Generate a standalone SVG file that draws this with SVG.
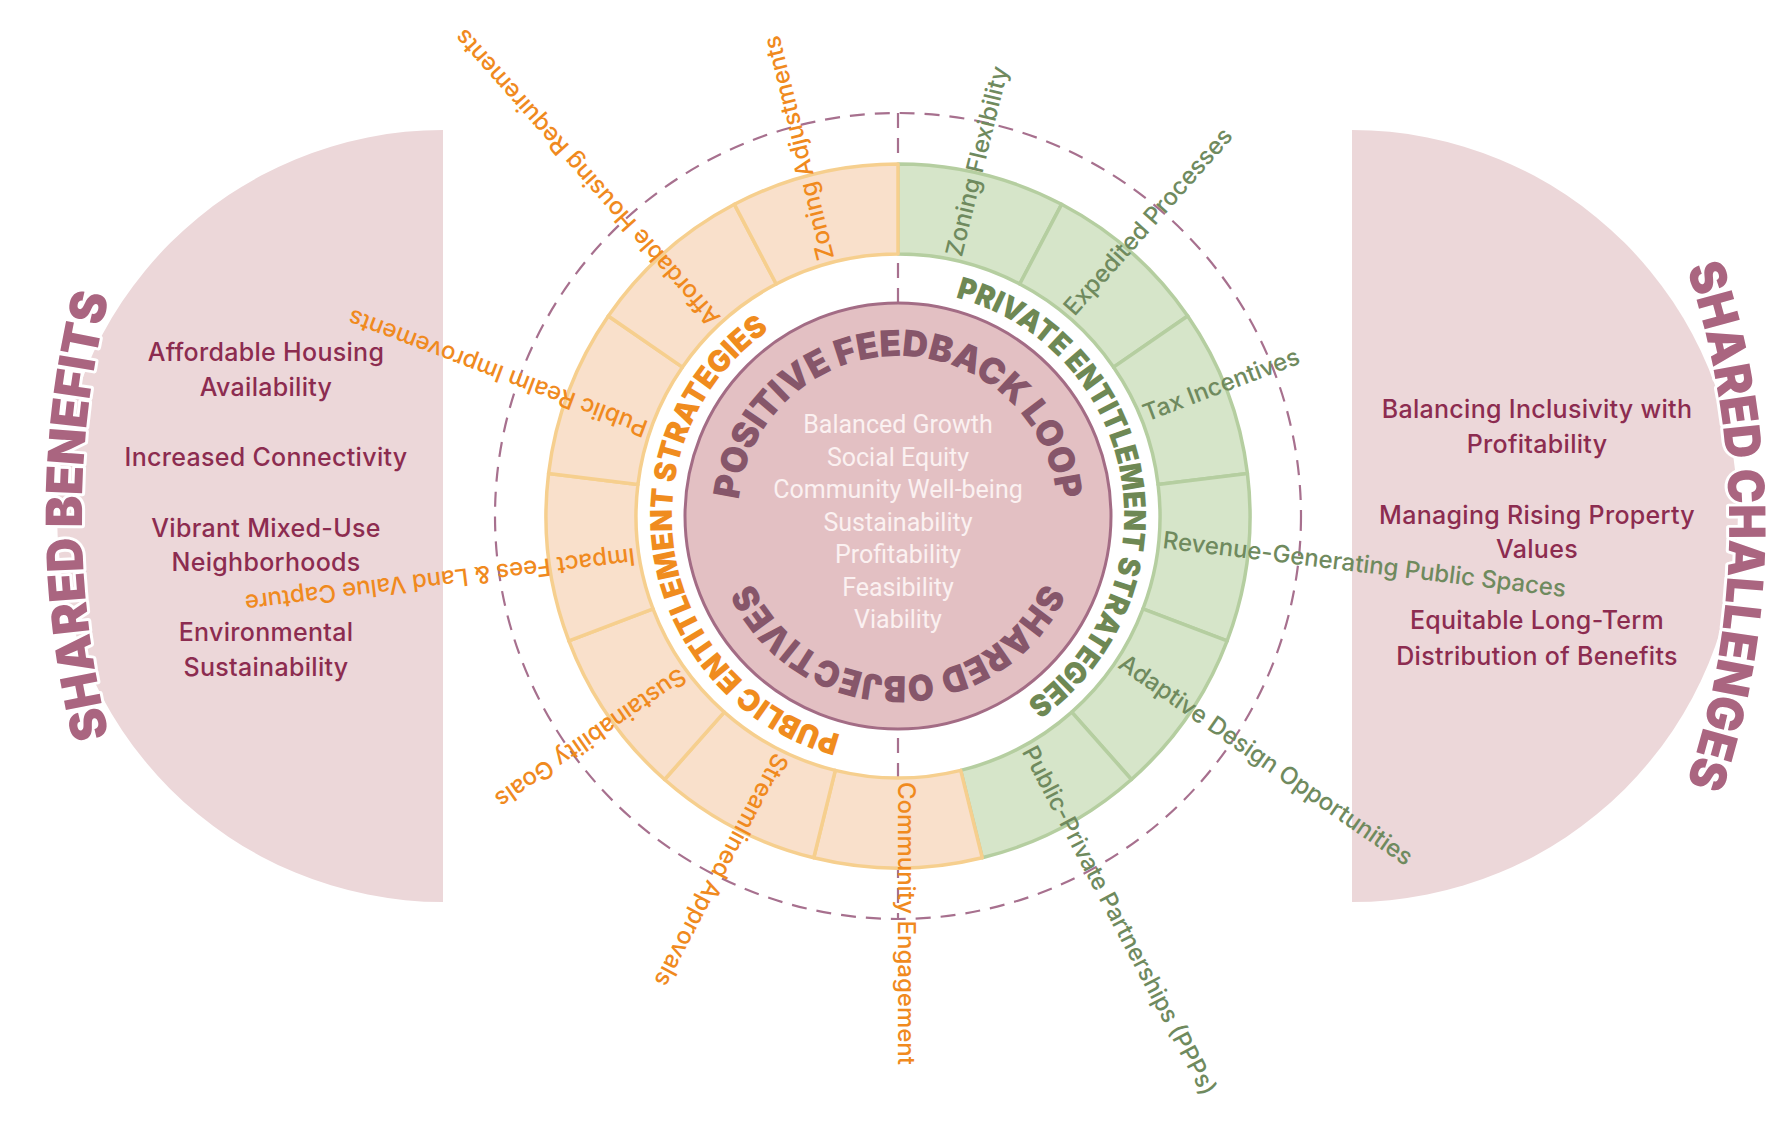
<svg xmlns="http://www.w3.org/2000/svg" width="1791" height="1145" viewBox="0 0 1791 1145">
<style>
.side{fill:#ecd7d9}
.stxt{font-family:Inter,"Liberation Sans",sans-serif;font-size:25px;font-weight:500;letter-spacing:0.3px;fill:#8c2c50;text-anchor:middle}
.stitle{font-family:Inter,"Liberation Sans",sans-serif;font-size:50px;font-weight:900;fill:#aa6580;stroke:#ffffff;stroke-width:6;paint-order:stroke;stroke-linejoin:round}
.dash{fill:none;stroke:#a7708e;stroke-width:2.2;stroke-dasharray:15 10}
.seg-o{fill:#f9e0cb;stroke:#f6cf8e;stroke-width:3.5;stroke-linejoin:round}
.seg-g{fill:#d6e5c9;stroke:#b5cea0;stroke-width:3.5;stroke-linejoin:round}
.lab{font-family:Inter,"Liberation Sans",sans-serif;font-size:24px;font-weight:500}
.lo{fill:#f08a1e}
.lg{fill:#6f8a5e}
.ring-title{font-family:Inter,"Liberation Sans",sans-serif;font-size:30px;font-weight:900}
.core{fill:#e3c0c3;stroke:#a36c85;stroke-width:3}
.core-title{font-family:Inter,"Liberation Sans",sans-serif;font-size:36px;font-weight:900;fill:#86566a}
.ctxt{font-family:Roboto,"Liberation Sans",sans-serif;font-size:25px;fill:#fbf1f1;text-anchor:middle}
</style>
<defs>
<path id="pLeftTitle" d="M130,806 A900,900 0 0 1 130,226"/>
<path id="pRightTitle" d="M1674.6,236 A800,800 0 0 1 1674.6,816"/>
<path id="pPublic" d="M1110.37,593.30 A226,226 0 1 1 1071.13,370.73"/>
<path id="pPrivate" d="M685.63,438.70 A226,226 0 1 1 724.87,661.27"/>
<path id="pTop" d="M818,654.56 A160,160 0 1 1 978,654.56"/>
<path id="pBottom" d="M978,377.44 A160,160 0 1 1 818,377.44"/>
</defs>
<rect width="1791" height="1145" fill="#ffffff"/>

<g id="shared-benefits">
<path class="side" d="M443,130 L443,902 A386,386 0 0 1 443,130 Z"/>
<text class="stitle"><textPath href="#pLeftTitle" startOffset="50%" text-anchor="middle" textLength="445" lengthAdjust="spacingAndGlyphs">SHARED BENEFITS</textPath></text>
<text class="stxt" x="266" y="361">Affordable Housing</text>
<text class="stxt" x="266" y="396">Availability</text>
<text class="stxt" x="266" y="466">Increased Connectivity</text>
<text class="stxt" x="266" y="537">Vibrant Mixed-Use</text>
<text class="stxt" x="266" y="571">Neighborhoods</text>
<text class="stxt" x="266" y="641">Environmental</text>
<text class="stxt" x="266" y="676">Sustainability</text>
</g>

<g id="shared-challenges">
<path class="side" d="M1352,130 A386,386 0 0 1 1352,902 Z"/>
<text class="stitle"><textPath href="#pRightTitle" startOffset="50%" text-anchor="middle" textLength="525" lengthAdjust="spacingAndGlyphs">SHARED CHALLENGES</textPath></text>
<text class="stxt" x="1537" y="418">Balancing Inclusivity with</text>
<text class="stxt" x="1537" y="453">Profitability</text>
<text class="stxt" x="1537" y="524">Managing Rising Property</text>
<text class="stxt" x="1537" y="558">Values</text>
<text class="stxt" x="1537" y="629">Equitable Long-Term</text>
<text class="stxt" x="1537" y="665">Distribution of Benefits</text>
</g>

<g id="connectors">
<circle class="dash" cx="898" cy="516" r="403"/>
<line class="dash" x1="898" y1="113" x2="898" y2="919"/>
</g>

<g id="private-strategies">
<path class="seg-g" d="M898,164 A352,352 0 0 1 1061.58,204.32 L1019.76,284.01 A262,262 0 0 0 898,254 Z"/>
<path class="seg-g" d="M1061.58,204.32 A352,352 0 0 1 1187.69,316.04 L1113.62,367.17 A262,262 0 0 0 1019.76,284.01 Z"/>
<path class="seg-g" d="M1187.69,316.04 A352,352 0 0 1 1247.43,473.57 L1158.09,484.42 A262,262 0 0 0 1113.62,367.17 Z"/>
<path class="seg-g" d="M1247.43,473.57 A352,352 0 0 1 1227.12,640.82 L1142.97,608.91 A262,262 0 0 0 1158.09,484.42 Z"/>
<path class="seg-g" d="M1227.12,640.82 A352,352 0 0 1 1131.43,779.48 L1071.74,712.11 A262,262 0 0 0 1142.97,608.91 Z"/>
<path class="seg-g" d="M1131.43,779.48 A352,352 0 0 1 982.24,857.77 L960.70,770.39 A262,262 0 0 0 1071.74,712.11 Z"/>
<text class="ring-title" fill="#6e8854"><textPath href="#pPrivate" startOffset="50%" text-anchor="middle" textLength="515" lengthAdjust="spacingAndGlyphs">PRIVATE ENTITLEMENT STRATEGIES</textPath></text>
</g>

<g id="public-strategies">
<path class="seg-o" d="M982.24,857.77 A352,352 0 0 1 813.76,857.77 L835.30,770.39 A262,262 0 0 0 960.70,770.39 Z"/>
<path class="seg-o" d="M813.76,857.77 A352,352 0 0 1 664.57,779.48 L724.26,712.11 A262,262 0 0 0 835.30,770.39 Z"/>
<path class="seg-o" d="M664.57,779.48 A352,352 0 0 1 568.88,640.82 L653.03,608.91 A262,262 0 0 0 724.26,712.11 Z"/>
<path class="seg-o" d="M568.88,640.82 A352,352 0 0 1 548.57,473.57 L637.91,484.42 A262,262 0 0 0 653.03,608.91 Z"/>
<path class="seg-o" d="M548.57,473.57 A352,352 0 0 1 608.31,316.04 L682.38,367.17 A262,262 0 0 0 637.91,484.42 Z"/>
<path class="seg-o" d="M608.31,316.04 A352,352 0 0 1 734.42,204.32 L776.24,284.01 A262,262 0 0 0 682.38,367.17 Z"/>
<path class="seg-o" d="M734.42,204.32 A352,352 0 0 1 898,164 L898,254 A262,262 0 0 0 776.24,284.01 Z"/>
<text class="ring-title" fill="#f08c1e"><textPath href="#pPublic" startOffset="50%" text-anchor="middle" textLength="515" lengthAdjust="spacingAndGlyphs">PUBLIC ENTITLEMENT STRATEGIES</textPath></text>
</g>

<g id="shared-objectives">
<circle class="core" cx="898" cy="516" r="213"/>
<text class="core-title"><textPath href="#pTop" startOffset="50%" text-anchor="middle" textLength="470" lengthAdjust="spacingAndGlyphs">POSITIVE FEEDBACK LOOP</textPath></text>
<text class="core-title"><textPath href="#pBottom" startOffset="50%" text-anchor="middle" textLength="365" lengthAdjust="spacingAndGlyphs">SHARED OBJECTIVES</textPath></text>
<text class="ctxt" x="898" y="433">Balanced Growth</text>
<text class="ctxt" x="898" y="466">Social Equity</text>
<text class="ctxt" x="898" y="498">Community Well-being</text>
<text class="ctxt" x="898" y="531">Sustainability</text>
<text class="ctxt" x="898" y="563">Profitability</text>
<text class="ctxt" x="898" y="596">Feasibility</text>
<text class="ctxt" x="898" y="628">Viability</text>
</g>

<g id="labels-private">
<text class="lab lg" x="1164" y="516" transform="rotate(-76.15 898 516)">Zoning Flexibility</text>
<text class="lab lg" x="1164" y="516" transform="rotate(-48.46 898 516)">Expedited Processes</text>
<text class="lab lg" x="1164" y="516" transform="rotate(-20.77 898 516)">Tax Incentives</text>
<text class="lab lg" x="1164" y="516" transform="rotate(6.92 898 516)">Revenue-Generating Public Spaces</text>
<text class="lab lg" x="1164" y="516" transform="rotate(34.62 898 516)">Adaptive Design Opportunities</text>
<text class="lab lg" x="1164" y="516" transform="rotate(62.31 898 516)" textLength="390" lengthAdjust="spacingAndGlyphs">Public-Private Partnerships (PPPs)</text>
</g>

<g id="labels-public">
<text class="lab lo" x="1164" y="516" transform="rotate(90 898 516)">Community Engagement</text>
<text class="lab lo" x="1164" y="516" transform="rotate(117.69 898 516)">Streamlined Approvals</text>
<text class="lab lo" x="1164" y="516" transform="rotate(145.38 898 516)">Sustainability Goals</text>
<text class="lab lo" x="1164" y="516" transform="rotate(173.08 898 516)">Impact Fees &amp; Land Value Capture</text>
<text class="lab lo" x="1164" y="516" transform="rotate(200.77 898 516)">Public Realm Improvements</text>
<text class="lab lo" x="1164" y="516" transform="rotate(228.46 898 516)">Affordable Housing Requirements</text>
<text class="lab lo" x="1164" y="516" transform="rotate(256.15 898 516)">Zoning Adjustments</text>
</g>
</svg>
